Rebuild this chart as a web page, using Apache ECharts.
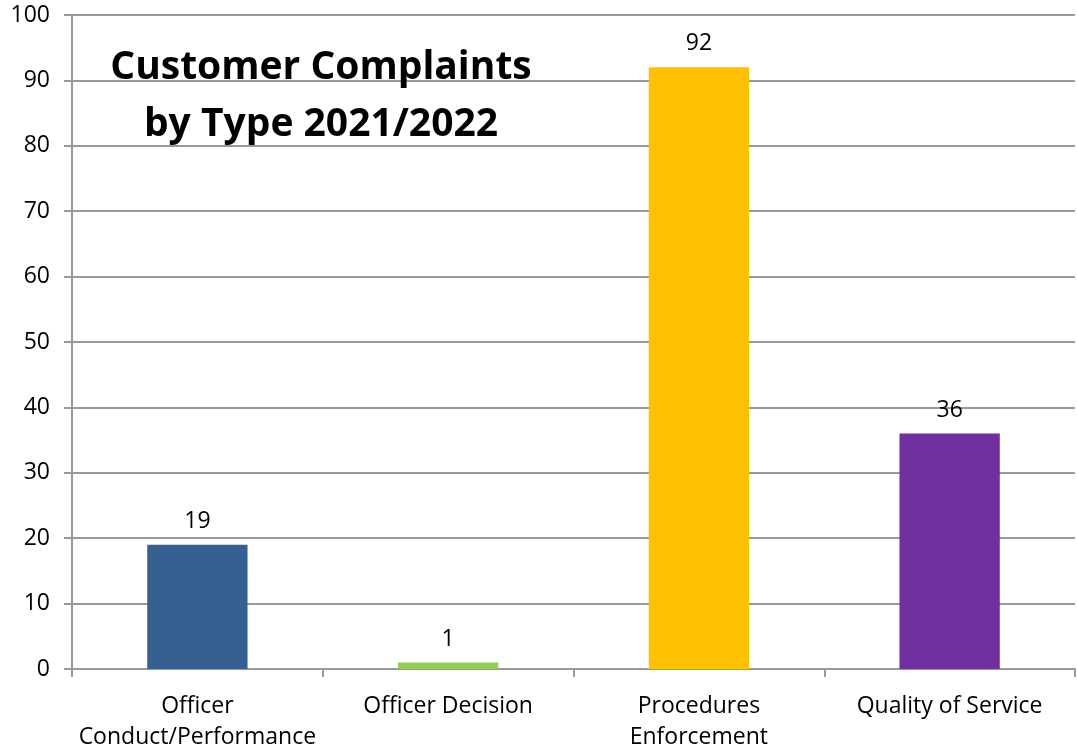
<!DOCTYPE html>
<html>
<head>
<meta charset="utf-8">
<script src="https://cdn.jsdelivr.net/npm/echarts@6/dist/echarts.min.js"></script>
<style>
  html, body { margin: 0; padding: 0; background: #fff; }
  #chart { width: 1077px; height: 749px; }
</style>
</head>
<body>
<div id="chart"></div>
<script>
// 数据
var categories = ['Officer\nConduct/Performance', 'Officer Decision', 'Procedures\nEnforcement', 'Quality of Service'];
var complaints = [19, 1, 92, 36];
var barColors = ['#376092', '#92D050', '#FFC000', '#7030A0'];
var titleLines = ['Customer Complaints', 'by Type 2021/2022'];

var myChart = echarts.init(document.getElementById('chart'));
var font = '"Open Sans", "Liberation Sans", sans-serif';

var option = {
  animation: false,
  title: {
    text: titleLines.join('\n'),
    left: 316,
    top: 34,
    textAlign: 'center',
    textStyle: {
      fontFamily: font,
      fontSize: 39,
      fontWeight: 'bold',
      color: '#000',
      lineHeight: 57
    }
  },
  grid: { left: 72, right: 2, top: 15, bottom: 80, outerBoundsMode: 'none' },
  xAxis: {
    type: 'category',
    data: categories,
    axisLine: { lineStyle: { color: '#999', width: 2 } },
    axisTick: { show: true, length: 8, lineStyle: { color: '#999', width: 2 } },
    axisLabel: {
      color: '#000',
      fontFamily: font,
      fontSize: 23,
      lineHeight: 31,
      margin: 22,
      interval: 0
    }
  },
  yAxis: {
    type: 'value',
    min: 0,
    max: 100,
    interval: 10,
    axisLine: { show: true, lineStyle: { color: '#999', width: 2 } },
    axisTick: { show: true, length: 8, lineStyle: { color: '#999', width: 2 } },
    splitLine: { lineStyle: { color: '#999', width: 2 } },
    axisLabel: {
      color: '#000',
      fontFamily: font,
      fontSize: 23,
      margin: 22
    }
  },
  series: [{
    type: 'bar',
    barWidth: '40%',
    data: complaints.map(function (v, i) {
      return { value: v, itemStyle: { color: barColors[i] } };
    }),
    label: {
      show: true,
      position: 'top',
      distance: 12,
      color: '#000',
      fontFamily: font,
      fontSize: 23
    }
  }]
};
myChart.setOption(option);
</script>
</body>
</html>
